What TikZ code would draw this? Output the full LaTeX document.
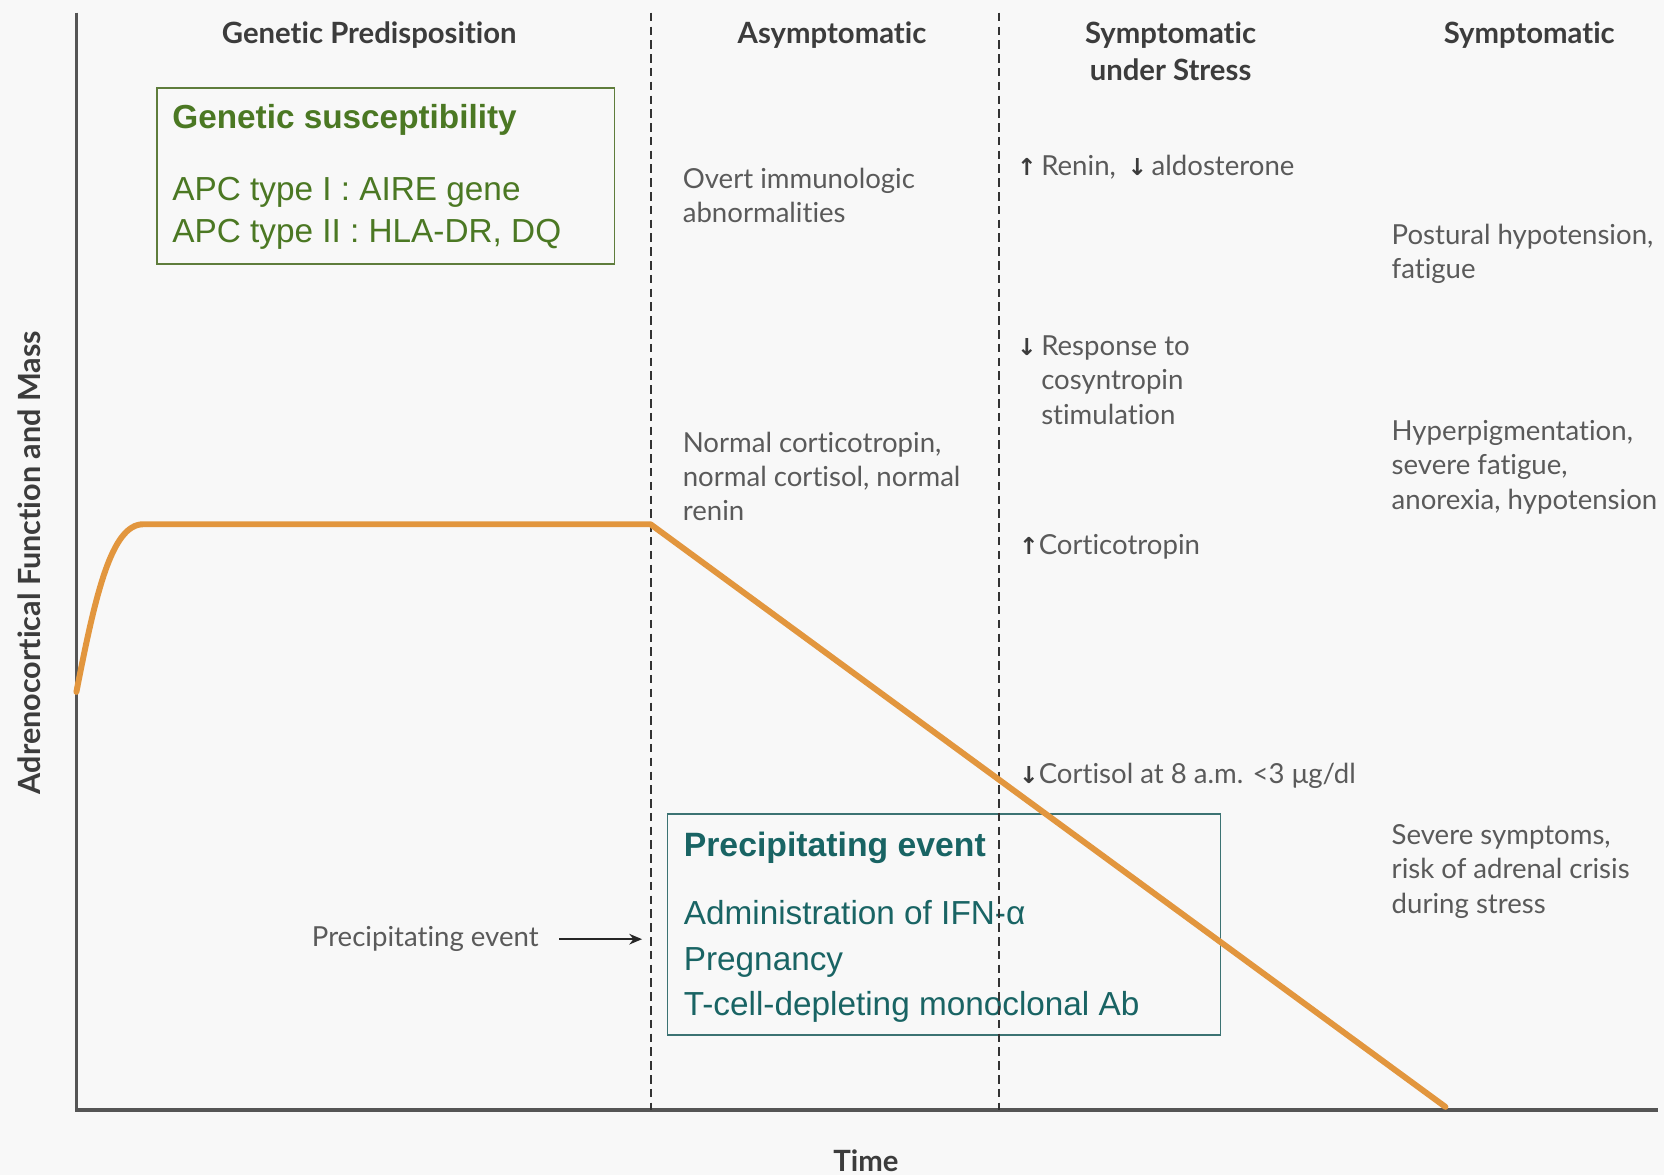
\documentclass[tikz,border=0pt]{standalone}
\usepackage{fontspec}
\setmainfont{Lato}[RawFeature={-liga;-dlig;-clig}]
\newfontfamily\boxfont{Liberation Sans}
\newfontfamily\symfont{DejaVu Sans}
\usetikzlibrary{arrows.meta}
\definecolor{bg}{RGB}{248,248,248}
\definecolor{txtc}{RGB}{90,90,90}
\definecolor{hdrc}{RGB}{60,60,60}
\definecolor{axisc}{RGB}{85,85,85}
\definecolor{curvec}{RGB}{226,150,62}
\definecolor{gboxc}{RGB}{95,125,60}
\definecolor{gtextc}{RGB}{75,120,35}
\definecolor{tboxc}{RGB}{60,115,115}
\definecolor{ttextc}{RGB}{25,100,100}
\newcommand{\up}{{\symfont\bfseries\fontsize{11}{11}\selectfont\color{hdrc}↑}}
\newcommand{\dn}{{\symfont\bfseries\fontsize{11}{11}\selectfont\color{hdrc}↓}}
\tikzset{
  hdr/.style={font=\bfseries\fontsize{13.8}{17.5}\selectfont, text=hdrc, inner sep=0pt, align=center},
  body/.style={font=\fontsize{13}{16.2}\selectfont, text=txtc, inner sep=0pt, align=left, anchor=west},
  axisline/.style={axisc, line width=1.5pt},
  divider/.style={black!80, line width=0.9pt, dash pattern=on 4pt off 2.5pt},
  gboxtitle/.style={font=\boxfont\bfseries\fontsize{15.7}{18}\selectfont, text=gtextc, inner sep=0pt, anchor=west},
  gboxline/.style={font=\boxfont\fontsize{15.7}{20}\selectfont, text=gtextc, inner sep=0pt, anchor=west, align=left},
  tboxtitle/.style={font=\boxfont\bfseries\fontsize{15.9}{18}\selectfont, text=ttextc, inner sep=0pt, anchor=west},
  tboxline/.style={font=\boxfont\fontsize{15.7}{21.3}\selectfont, text=ttextc, inner sep=0pt, anchor=west, align=left},
  curveline/.style={curvec, line width=2.8pt, line join=round, line cap=round}
}
\begin{document}
\begin{tikzpicture}[x=0.5pt,y=-0.5pt]
\fill[bg] (0,0) rectangle (1568,1107);
\useasboundingbox (0,0) rectangle (1568,1107);

% axes
\coordinate (otop) at (72,12);
\coordinate (orig) at (72,1046);
\coordinate (xend) at (1562,1046);
\draw[axisline] (otop) -- (orig) -- (xend);

% boxes
\draw[gboxc, line width=0.8pt] (148,83) rectangle (579,249);
\draw[tboxc, line width=0.8pt] (629,767) rectangle (1150,975);

% box texts
\node[gboxtitle] (gtitle) at (162,113) {Genetic susceptibility};
\node[gboxline] (glines) at (162,201) {APC type I : AIRE gene\\APC type II : HLA-DR, DQ};
\node[tboxtitle] (ttitle) at (644,799) {Precipitating event};
\node[tboxline] (tlines) at (644,906) {Administration of IFN-α\\Pregnancy\\T-cell-depleting monoclonal Ab};

% dividers
\coordinate (d1t) at (613.4,12);
\coordinate (d1b) at (613.4,1046);
\coordinate (d2t) at (941,12);
\coordinate (d2b) at (941,1046);
\draw[divider] (d1t) -- (d1b);
\draw[divider] (d2t) -- (d2b);

% headers
\node[hdr] (h1) at (348,33) {Genetic Predisposition};
\node[hdr] (h2) at (784,33) {Asymptomatic};
\node[hdr, anchor=north] (h3) at (1103,20) {Symptomatic\\under Stress};
\node[hdr] (h4) at (1441,33) {Symptomatic};

% column 2
\node[body] (c2a) at (643,184) {Overt immunologic\\abnormalities};
\node[body] (c2b) at (643,449) {Normal corticotropin,\\normal cortisol, normal\\renin};

% column 3
\node[body] (c3a) at (958,158) {\up\,Renin,\, \dn\,aldosterone};
\node[body] (c3b) at (958,358) {\dn\,Response to\\\phantom{\dn\,}cosyntropin\\\phantom{\dn\,}stimulation};
\node[body] (c3c) at (960,515) {\up Corticotropin};
\node[body] (c3d) at (960,731) {\dn Cortisol at 8 a.m. <3 μg/dl};

% column 4
\node[body] (c4a) at (1311,239) {Postural hypotension,\\fatigue};
\node[body] (c4b) at (1311,440) {Hyperpigmentation,\\severe fatigue,\\anorexia, hypotension};
\node[body] (c4c) at (1311,821) {Severe symptoms,\\risk of adrenal crisis\\during stress};

% precipitating event arrow
\node[body, anchor=east] (pe) at (508,885) {Precipitating event};
\coordinate (peend) at (605,885);
\draw[-{Stealth[length=6pt,width=5pt]}, black!85, line width=1pt] ([xshift=9.5pt]pe.east) -- (peend);

% curve
\draw[curveline] (72,652) .. controls (90,560) and (105,494) .. (135,494) -- (613,494) -- (1362,1043);

% axis labels
\node[hdr] (time) at (816,1094) {Time};
\node[hdr, font=\bfseries\fontsize{14.4}{17}\selectfont, rotate=90] (ylab) at (28,530) {Adrenocortical Function and Mass};
\end{tikzpicture}
\end{document}
